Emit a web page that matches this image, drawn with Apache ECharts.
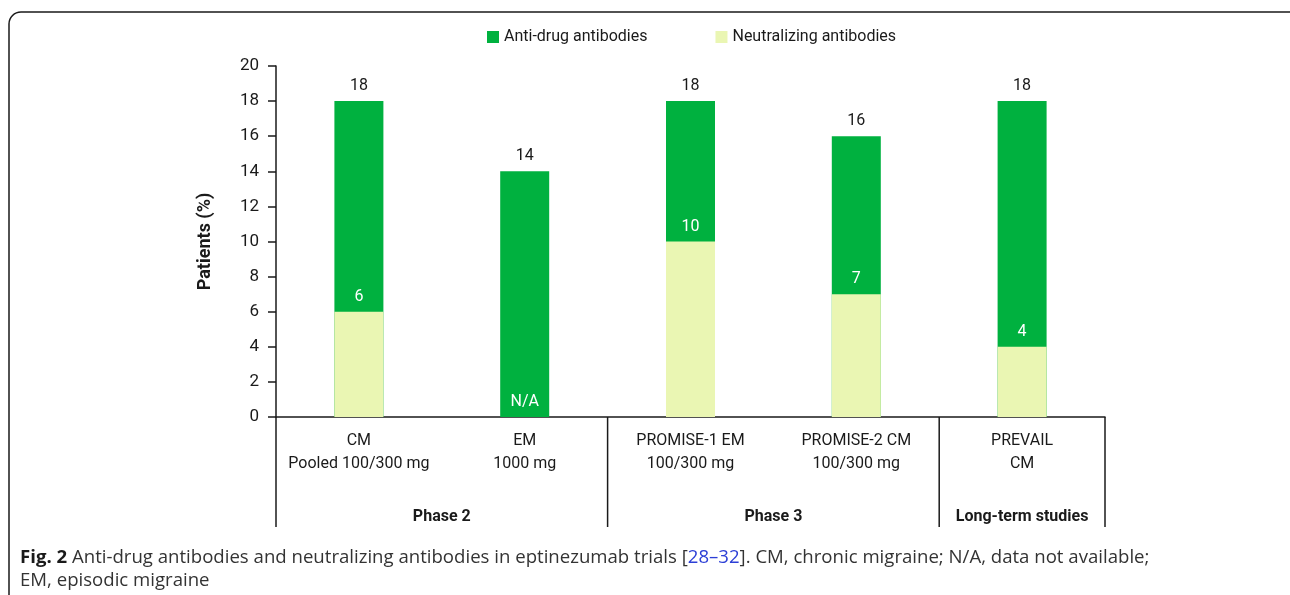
<!DOCTYPE html>
<html><head><meta charset="utf-8">
<script src="https://cdn.jsdelivr.net/npm/echarts@6/dist/echarts.min.js"></script>
<style>html,body{margin:0;padding:0;background:#fff}#c{width:1290px;height:595px}</style>
</head><body><div id="c"></div>
<script>
const categories = ['CM\nPooled 100/300 mg', 'EM\n1000 mg', 'PROMISE-1 EM\n100/300 mg', 'PROMISE-2 CM\n100/300 mg', 'PREVAIL\nCM'];
const antiDrug = [18, 14, 18, 16, 18];
const neutralizing = [6, null, 10, 7, 4];
const groupNames = ['Phase 2', 'Phase 3', 'Long-term studies'];
const groupStart = [0, 2, 4];
const groupEnd = [1, 3, 4];
const yTicks = [0, 2, 4, 6, 8, 10, 12, 14, 16, 18, 20];

const FONT = "'Roboto', sans-serif";
const CAP = "'Open Sans', sans-serif";
const GREEN = '#00b13f';
const LIGHT = '#eaf6b3';
const INK = '#1a1a1a';

const chart = echarts.init(document.getElementById('c'));
const option = {
  animation: false,
  textStyle: { fontFamily: FONT },
  legend: {
    top: 24, left: 482, itemWidth: 12, itemHeight: 12, itemGap: 68,
    icon: 'rect',
    textStyle: { fontFamily: FONT, fontSize: 16, color: INK },
    data: ['Anti-drug antibodies', 'Neutralizing antibodies']
  },
  grid: { left: 276, right: 185, top: 66, bottom: 178 },
  xAxis: {
    type: 'category', data: categories,
    axisLine: { lineStyle: { color: INK, width: 1.5 } },
    axisTick: { show: false },
    axisLabel: { color: INK, fontFamily: FONT, fontSize: 16, lineHeight: 23, margin: 12, interval: 0 }
  },
  yAxis: {
    type: 'value', min: yTicks[0], max: yTicks[yTicks.length - 1], interval: 2,
    name: 'Patients (%)', nameLocation: 'middle', nameGap: 62,
    nameTextStyle: { fontFamily: FONT, fontSize: 18, fontWeight: 'bold', color: INK },
    axisLine: { show: true, lineStyle: { color: INK, width: 1.5 } },
    axisTick: { show: true, length: 8, lineStyle: { color: INK, width: 1.5 } },
    axisLabel: { color: INK, fontFamily: FONT, fontSize: 17, margin: 17 },
    splitLine: { show: false }
  },
  series: [
    {
      name: 'Anti-drug antibodies', type: 'bar', data: antiDrug, barWidth: 49,
      itemStyle: { color: GREEN }, z: 2,
      label: { show: true, position: 'top', distance: 7, color: INK, fontFamily: FONT, fontSize: 16 }
    },
    {
      name: 'Neutralizing antibodies', type: 'bar', barWidth: 49, barGap: '-100%', z: 3,
      itemStyle: { color: LIGHT },
      data: neutralizing.map(v => v === null
        ? { value: 0, label: { formatter: 'N/A' } }
        : v),
      label: { show: true, position: 'top', distance: 7, color: '#ffffff', fontFamily: FONT, fontSize: 16 }
    }
  ]
};
chart.setOption(option);

// decorations: group separators, group labels, frame, caption
const cx = i => chart.convertToPixel({ xAxisIndex: 0 }, i);
const y0 = chart.convertToPixel({ yAxisIndex: 0 }, 0);
const band = cx(1) - cx(0);
const left = i => cx(i) - band / 2;
const right = i => cx(i) + band / 2;
const yBottom = y0 + 110;
const g = [];
const bounds = [left(0)].concat(groupEnd.map(e => right(e)));
bounds.forEach(x => g.push({ type: 'line', shape: { x1: x, y1: y0, x2: x, y2: yBottom }, style: { stroke: INK, lineWidth: 1.5 }, silent: true }));
groupNames.forEach((n, k) => {
  const mid = (left(groupStart[k]) + right(groupEnd[k])) / 2;
  g.push({ type: 'text', x: mid, y: y0 + 100, style: { text: n, fill: INK, font: "bold 16px " + FONT, align: 'center', verticalAlign: 'middle' }, silent: true });
});
g.push({ type: 'rect', shape: { x: 9, y: 12, width: 1320, height: 640, r: 12 }, style: { fill: 'none', stroke: INK, lineWidth: 1.5 }, silent: true, z: -1 });
g.push({ type: 'text', x: 20, y: 558, style: {
  text: '{b|Fig. 2} Anti-drug antibodies and neutralizing antibodies in eptinezumab trials [{l|28–32}]. CM, chronic migraine; N/A, data not available;',
  rich: { b: { fontWeight: 'bold', fontSize: 18.6, fontFamily: CAP, fill: INK }, l: { fontSize: 18.6, fontFamily: CAP, fill: '#2c3fd6' } },
  fontSize: 18.6, fontFamily: CAP, fill: '#333', verticalAlign: 'middle' }, silent: true });
g.push({ type: 'text', x: 20, y: 581, style: { text: 'EM, episodic migraine', fontSize: 18.6, fontFamily: CAP, fill: '#333', verticalAlign: 'middle' }, silent: true });
chart.setOption({ graphic: g });
</script></body></html>
